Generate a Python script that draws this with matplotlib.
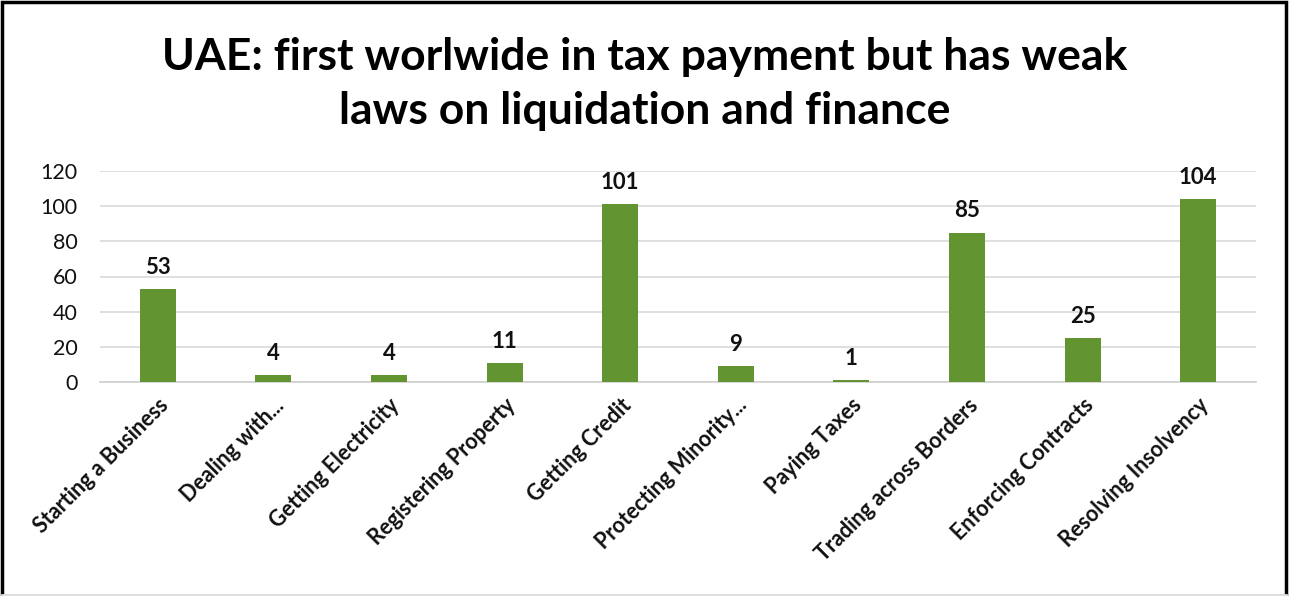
import matplotlib
matplotlib.use('AGG')

import matplotlib.pyplot as plt
from matplotlib.patches import Rectangle
from matplotlib.lines import Line2D

plt.rcParams['font.family'] = ['Lato', 'DejaVu Sans']

categories = ['Starting a Business', 'Dealing with...', 'Getting Electricity',
              'Registering Property', 'Getting Credit', 'Protecting Minority...',
              'Paying Taxes', 'Trading across Borders', 'Enforcing Contracts',
              'Resolving Insolvency']
ranks = [53, 4, 4, 11, 101, 9, 1, 85, 25, 104]
yticks = [0, 20, 40, 60, 80, 100, 120]

title = 'UAE: first worlwide in tax payment but has weak\nlaws on liquidation and finance'

fig = plt.figure(figsize=(12.89, 5.96), dpi=100)
ax = fig.add_axes([100 / 1289, 1 - 382 / 596, 1156 / 1289, 211 / 596])

x = range(len(categories))
bars = ax.bar(x, ranks, width=0.31, color='#629532', zorder=3)
for b, v in zip(bars, ranks):
    ax.annotate(str(v), (b.get_x() + b.get_width() / 2, v), xytext=(0, 8),
                textcoords='offset points', ha='center', va='bottom',
                fontsize=16, fontweight='bold', color='#111111')

ax.set_xlim(-0.5, len(categories) - 0.5)
ax.set_ylim(0, 120)
ax.set_yticks(yticks)
ax.set_xticks(list(x))
ax.set_xticklabels(categories, rotation=45, ha='right', rotation_mode='anchor',
                   fontsize=15, fontweight='bold')
ax.tick_params(axis='both', length=0, labelsize=15.5, colors='#111111')
ax.tick_params(axis='x', pad=9)
ax.tick_params(axis='y', pad=16)
ax.grid(axis='y', color='#d9d9d9', linewidth=1.2, zorder=0)
for s in ['top', 'right', 'left']:
    ax.spines[s].set_visible(False)
ax.spines['bottom'].set_color('#d0d0d0')
ax.spines['bottom'].set_linewidth(1.2)

fig.text(0.500, 1 - 84 / 596, title, ha='center', va='center',
         fontsize=32, fontweight='bold', color='#000000', linespacing=1.42)

# outer frame
fig.patches.append(Rectangle((2 / 1289, 0), 1284 / 1289, 1 - 2 / 596,
                             transform=fig.transFigure, fill=False,
                             edgecolor='black', linewidth=2.5, zorder=10))
fig.lines.append(Line2D([2 / 1289, 1286 / 1289], [1 / 596, 1 / 596],
                        transform=fig.transFigure, color='#e0e0e0',
                        linewidth=2, zorder=11))

fig.savefig('out.png', dpi=100, facecolor='white')
